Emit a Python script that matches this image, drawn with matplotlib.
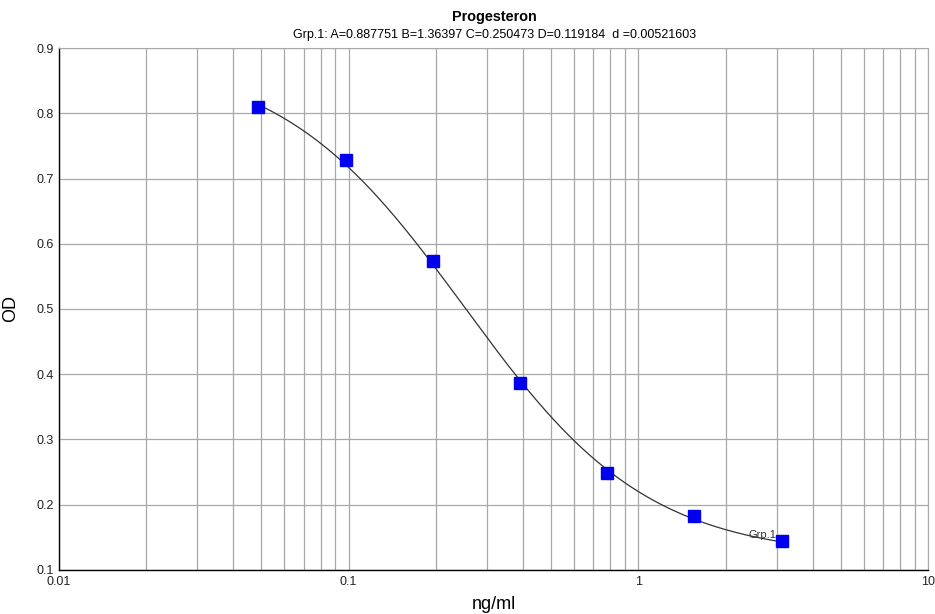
import numpy as np
import matplotlib
matplotlib.use('Agg')
import matplotlib.pyplot as plt
from matplotlib.ticker import LogLocator, FixedLocator, NullFormatter

plt.rcParams['font.family'] = ['Liberation Sans', 'DejaVu Sans']

# Standards (ng/ml) and measured OD
conc = [0.0488, 0.0977, 0.195, 0.39, 0.78, 1.5625, 3.125]
od = [0.809, 0.729, 0.573, 0.386, 0.249, 0.183, 0.145]

# 4PL fit parameters as printed on the chart
A, B, C, D = 0.887751, 1.36397, 0.250473, 0.119184

fig = plt.figure(figsize=(9.35, 6.14), dpi=100)
ax = fig.add_axes([0.0631, 0.0717, 0.9294, 0.8501])

xs = np.logspace(np.log10(conc[0]), np.log10(conc[-1]), 300)
ax.plot(xs, D + (A - D) / (1 + (xs / C) ** B), color='#333333', lw=0.9, zorder=3)
ax.plot(conc, od, 's', color='#0000ee', ms=8, zorder=4)
ax.text(2.4, 0.149, 'Grp.1', fontsize=8, color='#333333', zorder=5)

ax.set_xscale('log')
ax.set_xlim(0.01, 10)
ax.set_ylim(0.1, 0.9)
ax.xaxis.set_major_locator(FixedLocator([0.01, 0.1, 1, 10]))
ax.set_xticklabels(['0.01', '0.1', '1', '10'])
ax.xaxis.set_minor_locator(LogLocator(base=10, subs=np.arange(2, 10)))
ax.xaxis.set_minor_formatter(NullFormatter())
ax.set_yticks(np.arange(0.1, 0.91, 0.1))
ax.set_yticklabels([f'{v:.1f}' for v in np.arange(0.1, 0.91, 0.1)])

ax.grid(True, which='both', color='#a8a8a8', lw=0.9)
ax.tick_params(which='both', length=0, labelsize=9, labelcolor='#222222')
ax.tick_params(axis='x', pad=4)
ax.tick_params(axis='y', pad=4)

for s in ['top', 'right']:
    ax.spines[s].set_color('#a8a8a8')
for s in ['left', 'bottom']:
    ax.spines[s].set_color('black')
    ax.spines[s].set_linewidth(1.0)

ax.set_xlabel('ng/ml', fontsize=13, labelpad=6)
ax.set_ylabel('OD', fontsize=13, labelpad=12)

fig.text(0.5285, 0.972, 'Progesteron', ha='center', va='center', fontsize=10.4, fontweight='bold')
fig.text(0.5285, 0.943, 'Grp.1: A=0.887751 B=1.36397 C=0.250473 D=0.119184  d =0.00521603',
         ha='center', va='center', fontsize=9)

fig.savefig('out.png', dpi=100)
